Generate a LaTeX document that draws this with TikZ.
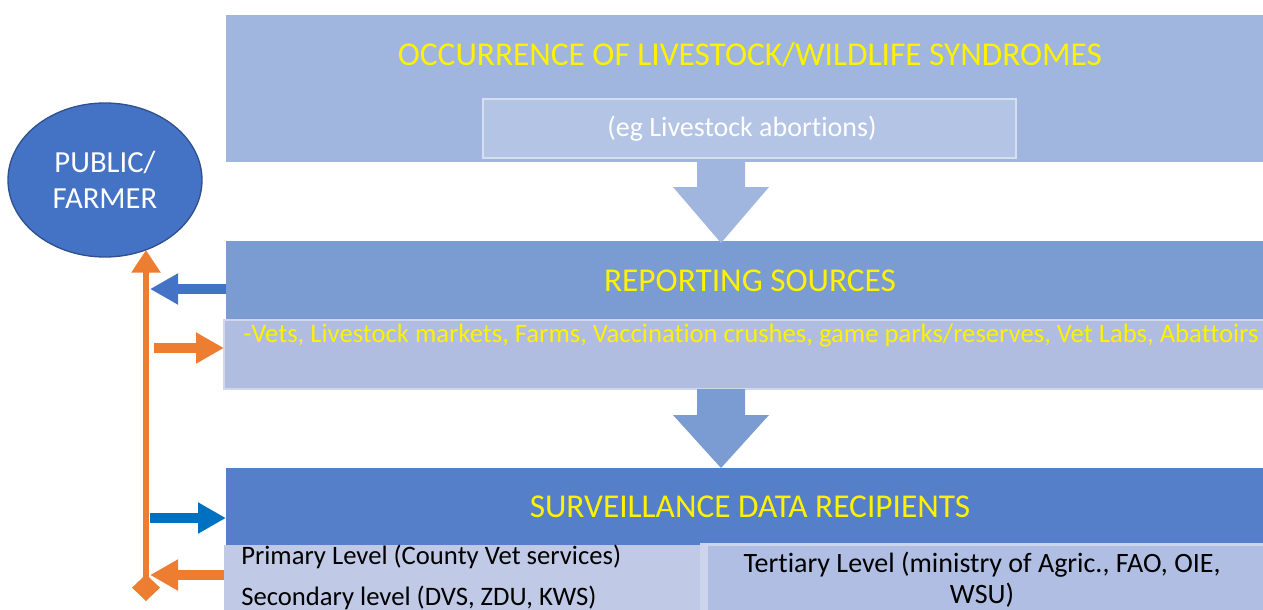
\documentclass[tikz,border=0pt]{standalone}
\usepackage{fontspec}
\setmainfont{Carlito}[Ligatures=NoCommon]
\usetikzlibrary{arrows.meta,shapes.geometric}

\definecolor{occblue}{HTML}{A0B6DF}
\definecolor{egblue}{HTML}{B4C4E4}
\definecolor{repblue}{HTML}{7B9BD3}
\definecolor{srcblue}{HTML}{B0BDE0}
\definecolor{recblue}{HTML}{5580C9}
\definecolor{primblue}{HTML}{C0CAE6}
\definecolor{tertblue}{HTML}{AFBEE2}
\definecolor{tertedge}{HTML}{CDD5EC}
\definecolor{pubblue}{HTML}{4472C4}
\definecolor{pubedge}{HTML}{2F528F}
\definecolor{flagorange}{HTML}{ED7D31}
\definecolor{darkblue}{HTML}{0070C0}

\begin{document}
\begin{tikzpicture}[x=0.75pt,y=-0.75pt,
    band/.style={rectangle, inner sep=0pt, outer sep=0pt, anchor=north west},
    title/.style={inner sep=0pt, text=yellow, font=\fontsize{25}{29}\selectfont},
    body/.style={inner sep=0pt, font=\fontsize{20}{24}\selectfont},
    sidearrow/.style={line width=7.5pt, -{Triangle[length=21pt,width=22pt]}}]
  \useasboundingbox (0,0) rectangle (1263,610);

  % the three bands
  \node[band, fill=occblue, minimum width=777.75pt, minimum height=110.25pt] (occ) at (226,15) {};
  \node[band, fill=egblue, draw=white!45!egblue, line width=1pt,
        minimum width=399.75pt, minimum height=44.25pt] (eg) at (483,99) {};
  \node[band, fill=repblue, minimum width=777.75pt, minimum height=59.25pt] (rep) at (226,241) {};
  \node[band, fill=srcblue, draw=white!40!srcblue, line width=1pt,
        minimum width=786pt, minimum height=51.75pt] (src) at (224,320) {};
  \node[band, fill=recblue, minimum width=777.75pt, minimum height=57.75pt] (rec) at (226,468) {};
  \node[band, fill=primblue, minimum width=357pt, minimum height=52pt] (prim) at (224,545) {};
  \node[band, fill=tertedge, minimum width=430pt, minimum height=55pt] (tert) at (700,543) {};
  \fill[tertblue] (708,546) rectangle (1270,615);

  % block arrows
  \fill[occblue] (697,162) -- (745,162) -- (745,187) -- (769,187) -- (721,243)
    -- (673,187) -- (697,187) -- cycle;
  \fill[repblue] (697,389) -- (745,389) -- (745,415) -- (769,415) -- (721,468)
    -- (673,415) -- (697,415) -- cycle;

  % texts
  \node[title] (occt) at (750,55) {OCCURRENCE OF LIVESTOCK/WILDLIFE SYNDROMES};
  \node[body, text=white, font=\fontsize{21}{25}\selectfont] (egt) at (742,129) {(eg Livestock abortions)};
  \node[title] (rept) at (750,281) {REPORTING SOURCES};
  \node[body, text=yellow, anchor=west] (srct) at (243,336)
    {-Vets, Livestock markets, Farms, Vaccination crushes, game parks/reserves, Vet Labs, Abattoirs};
  \node[title] (rect) at (750,507) {SURVEILLANCE DATA RECIPIENTS};
  \node[body, anchor=west] (primt) at (241,557) {Primary Level (County Vet services)};
  \node[body, anchor=west] (sect) at (241,598) {Secondary level (DVS, ZDU, KWS)};
  \node[body, align=center, font=\fontsize{21}{23}\selectfont] (tertt) at (982,580)
    {Tertiary Level (ministry of Agric., FAO, OIE,\\WSU)};

  % public / farmer
  \node[ellipse, fill=pubblue, draw=pubedge, line width=1pt, inner sep=0pt, outer sep=0pt,
        minimum width=145.5pt, minimum height=115.5pt, text=white, align=center,
        font=\fontsize{23}{27}\selectfont] (pub) at (105,180) {PUBLIC/\\FARMER};

  % feedback line
  \coordinate (bot) at (146,601);
  \coordinate (s1) at (150,289);
  \coordinate (s2) at (154,348);
  \coordinate (s3) at (150,518);
  \coordinate (s4) at (150,575);
  \draw[flagorange, line width=5pt,
        {Diamond[length=20pt,width=21pt]}-{Triangle[length=17pt,width=21pt]}]
    (bot) -- (bot |- pub.-60);
  \draw[sidearrow, pubblue] (rep.west |- s1) -- (s1);
  \draw[sidearrow, flagorange] (s2) -- (src.west |- s2);
  \draw[sidearrow, darkblue] (s3) -- (rec.west |- s3);
  \draw[sidearrow, flagorange] (prim.west |- s4) -- (s4);
\end{tikzpicture}
\end{document}
